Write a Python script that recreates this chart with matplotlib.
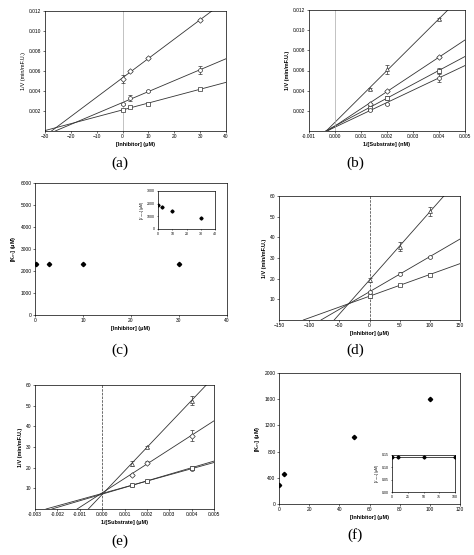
import matplotlib
matplotlib.use("Agg")
import matplotlib.pyplot as plt
import numpy as np

plt.rcParams['font.family'] = ['Liberation Sans', 'DejaVu Sans']
plt.rcParams['font.size'] = 4

# (a)
a_x = [0, 3, 10, 30]
a_series = {'D': [0.0052, 0.0060, 0.0073, 0.0111],
            'o': [0.0027, 0.0033, 0.0040, 0.0061],
            's': [0.0021, 0.0024, 0.0027, 0.0042]}
a_err = {'D': [0.0004, 0.0001, 0.0001, 0.0001], 'o': [0.0001, 0.0003, 0.0001, 0.0004], 's': [0.0001, 0.0001, 0.0001, 0.0001]}
# (b)
b_x = [0.00133, 0.002, 0.004]
b_series = {'^': [0.0042, 0.0061, 0.0111], 'D': [0.0027, 0.0040, 0.0073],
            's': [0.0023, 0.0033, 0.0060], 'o': [0.0021, 0.0027, 0.0053]}
b_err = {'^': [0.0001, 0.0004, 0.0001], 'D': [0.0001, 0.0001, 0.0001], 's': [0.0001, 0.0002, 0.0002], 'o': [0.0001, 0.0001, 0.0004]}
# (c)
c_x = [0.3, 3, 10, 30]
c_km = [2300, 2300, 2300, 2300]
c_inset = [1900, 1750, 1400, 900]
# (d)
d_x = [0, 50, 100]
d_series = {'^': [19.5, 35.5, 52.5], 'o': [13.5, 22.5, 30.5], 's': [11.5, 16.8, 22.0]}
d_err = {'^': [1.0, 2.0, 2.0], 'o': [0.5, 0.5, 0.5], 's': [0.8, 0.5, 0.8]}
# (e)
e_x = [0.00133, 0.002, 0.004]
e_series = {'^': [22.0, 30.0, 52.5], 'D': [16.5, 22.5, 35.5], 'o': [11.5, 13.5, 19.5], 's': [11.5, 13.5, 20.0]}
e_err = {'^': [1.0, 0.5, 2.0], 'D': [0.5, 0.5, 2.5], 'o': [0.5, 0.5, 0.5], 's': [0.5, 0.5, 0.8]}
# (f)
f_x = [0, 3, 50, 100]
f_km = [290, 460, 1030, 1600]
f_inset_x = [0, 10, 50, 100]
f_inset = [0.14, 0.14, 0.14, 0.14]

W, H = 474, 555
fig = plt.figure(figsize=(W/100, H/100), dpi=100)

def ax_px(x0, y0, x1, y1):
    return fig.add_axes([x0/W, 1-y1/H, (x1-x0)/W, (y1-y0)/H])

def style(ax):
    for s in ax.spines.values():
        s.set_linewidth(0.5)
    ax.tick_params(width=0.4, length=1.5, pad=1, labelsize=3.5)

def lines(ax, x, series, err, xmax, ymax):
    for m, y in series.items():
        k, b = np.polyfit(x, y, 1)
        x0 = -b/k
        xs = np.array([x0, xmax])
        ax.plot(xs, k*xs+b, color='#333333', lw=0.6, zorder=2)
        ax.errorbar(x, y, yerr=err[m], fmt=m, ms=2.8, mfc='white', mec='#333333', mew=0.5,
                    ecolor='#333333', elinewidth=0.5, capsize=1.2, capthick=0.5, zorder=3)

def label(x, y, t):
    fig.text(x/W, 1-y/H, t, ha='center', va='center', fontsize=11, family='Liberation Serif')

# a
ax = ax_px(45, 11, 226, 131); style(ax)
lines(ax, a_x, a_series, a_err, 40, 0.012)
ax.axvline(0, color='#aaaaaa', lw=0.5)
ax.set_xlim(-30, 40); ax.set_ylim(0, 0.012)
ax.set_xticks(range(-30, 41, 10)); ax.set_yticks([0.002, 0.004, 0.006, 0.008, 0.010, 0.012])
ax.yaxis.set_major_formatter(matplotlib.ticker.FormatStrFormatter('%.3f'))
ax.set_xlabel('[Inhibitor] (μM)', fontweight='bold', labelpad=2)
ax.set_ylabel('1/V (min/mF.U.)', labelpad=2)
label(120, 163, '(a)')

# b
ax = ax_px(309, 10, 465, 131); style(ax)
lines(ax, b_x, b_series, b_err, 0.005, 0.012)
ax.axvline(0, color='#aaaaaa', lw=0.5)
ax.set_xlim(-0.001, 0.005); ax.set_ylim(0, 0.012)
ax.set_xticks(np.arange(-0.001, 0.0051, 0.001)); ax.set_yticks([0.002, 0.004, 0.006, 0.008, 0.010, 0.012])
ax.xaxis.set_major_formatter(matplotlib.ticker.FormatStrFormatter('%.3f'))
ax.yaxis.set_major_formatter(matplotlib.ticker.FormatStrFormatter('%.3f'))
ax.set_xlabel('1/[Substrate] (nM)', fontweight='bold', labelpad=2)
ax.set_ylabel('1/V (min/mF.U.)', fontweight='bold', labelpad=2)
label(355, 163, '(b)')

# c
ax = ax_px(35, 183, 227, 315); style(ax)
ax.plot(c_x, c_km, 'D', color='black', ms=2.2)
ax.set_xlim(0, 40); ax.set_ylim(0, 6000)
ax.set_xticks(range(0, 41, 10)); ax.set_yticks(range(0, 6001, 1000))
ax.set_xlabel('[Inhibitor] (μM)', fontweight='bold', labelpad=2)
ax.set_ylabel('[K$_m$] (μM)', fontweight='bold', labelpad=2)
ins = ax_px(158, 191, 215, 229); style(ins)
ins.tick_params(labelsize=2.5, length=1)
ins.plot(c_x, c_inset, 'D', color='black', ms=1.6)
ins.set_xlim(0, 40); ins.set_ylim(0, 3000)
ins.set_xticks(range(0, 41, 10)); ins.set_yticks([0, 1000, 2000, 3000])
ins.set_ylabel('[V$_{max}$] (μM)', fontsize=2.5, labelpad=1)
label(120, 350, '(c)')

# d
ax = ax_px(279, 196, 460, 320); style(ax)
lines(ax, d_x, d_series, d_err, 150, 60)
ax.axvline(0, color='#333333', lw=0.5, ls='--')
ax.set_xlim(-150, 150); ax.set_ylim(0, 60)
ax.set_xticks(range(-150, 151, 50)); ax.set_yticks(range(10, 61, 10))
ax.set_xlabel('[Inhibitor] (μM)', fontweight='bold', labelpad=2)
ax.set_ylabel('1/V (min/mF.U.)', fontweight='bold', labelpad=2)
label(355, 350, '(d)')

# e
ax = ax_px(35, 385, 214, 509); style(ax)
lines(ax, e_x, e_series, e_err, 0.005, 60)
ax.axvline(0, color='#333333', lw=0.5, ls='--')
ax.set_xlim(-0.003, 0.005); ax.set_ylim(0, 60)
ax.set_xticks(np.arange(-0.003, 0.0051, 0.001)); ax.set_yticks(range(10, 61, 10))
ax.xaxis.set_major_formatter(matplotlib.ticker.FormatStrFormatter('%.3f'))
ax.set_xlabel('1/[Substrate] (μM)', fontweight='bold', labelpad=2)
ax.set_ylabel('1/V (min/mF.U.)', fontweight='bold', labelpad=2)
label(120, 541, '(e)')

# f
ax = ax_px(279, 373, 460, 504); style(ax)
ax.plot(f_x, f_km, 'D', color='black', ms=2.2)
ax.set_xlim(0, 120); ax.set_ylim(0, 2000)
ax.set_xticks(range(0, 121, 20)); ax.set_yticks(range(0, 2001, 400))
ax.set_xlabel('[Inhibitor] (μM)', fontweight='bold', labelpad=2)
ax.set_ylabel('[K$_m$] (μM)', fontweight='bold', labelpad=2)
ins = ax_px(392, 455, 455, 492); style(ins)
ins.tick_params(labelsize=2.5, length=1)
ins.plot(f_inset_x, f_inset, 'D-', color='black', ms=1.6, lw=0.5)
ins.set_xlim(0, 100); ins.set_ylim(0, 0.15)
ins.set_xticks(range(0, 101, 25)); ins.set_yticks([0, 0.05, 0.1, 0.15])
ins.set_ylabel('[V$_{max}$] (μM)', fontsize=2.5, labelpad=1)
label(355, 535, '(f)')

fig.savefig('out.png', dpi=100)
